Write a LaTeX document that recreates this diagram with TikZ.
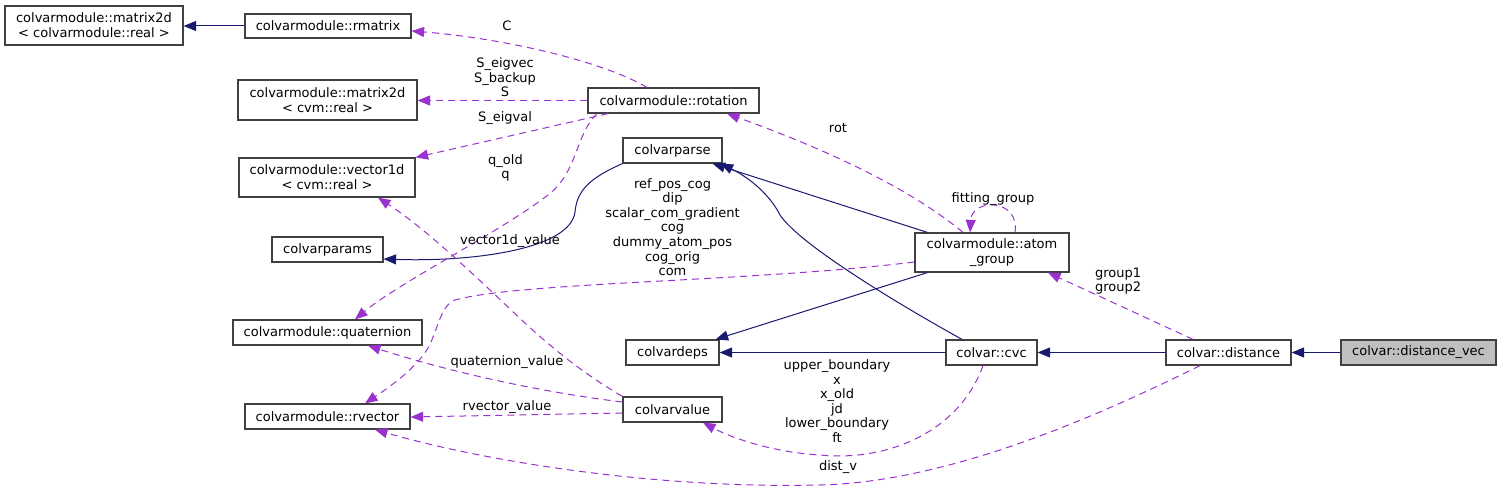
\documentclass[tikz,border=0pt]{standalone}
\usepackage{fontspec}
\setmainfont{DejaVu Sans}
\usetikzlibrary{arrows.meta,calc}
\definecolor{navy}{HTML}{191970}
\definecolor{orchid}{HTML}{9A32CD}
\definecolor{bord}{HTML}{404040}
\definecolor{hl}{HTML}{BFBFBF}
\begin{document}
\begin{tikzpicture}[x=1pt,y=-1pt,
  font=\fontsize{13}{15}\selectfont,
  box/.style={draw=bord, fill=white, line width=1.2pt, inner sep=0pt, align=center},
  lbl/.style={align=center, inner sep=0pt, font=\fontsize{13}{14.6}\selectfont},
  inh/.style={draw=navy, line width=1pt, -{Triangle[length=12.5pt,width=10pt]}, navy},
  use/.style={draw=orchid, line width=1pt, dash pattern=on 7pt off 5pt, -{Triangle[length=12.5pt,width=10pt]}, orchid}]
\useasboundingbox (0,0) rectangle (1501,492);

% nodes
\node[box,minimum width=178pt,minimum height=39pt] (m2dreal) at (94,25.5) {colvarmodule::matrix2d\\< colvarmodule::real >};
\node[box,minimum width=166pt,minimum height=24pt] (rmatrix) at (328,26) {colvarmodule::rmatrix};
\node[box,minimum width=179pt,minimum height=40pt] (m2dcvm) at (327.5,100) {colvarmodule::matrix2d\\< cvm::real >};
\node[box,minimum width=176pt,minimum height=39pt] (vec1d) at (327,177.5) {colvarmodule::vector1d\\< cvm::real >};
\node[box,minimum width=111pt,minimum height=25pt] (params) at (327.5,249.5) {colvarparams};
\node[box,minimum width=189pt,minimum height=25pt] (quat) at (327.5,332.5) {colvarmodule::quaternion};
\node[box,minimum width=165pt,minimum height=25pt] (rvector) at (327.5,416.5) {colvarmodule::rvector};
\node[box,minimum width=171pt,minimum height=25pt] (rotation) at (673.5,100.5) {colvarmodule::rotation};
\node[box,minimum width=99pt,minimum height=25pt] (parse) at (672.5,150.5) {colvarparse};
\node[box,minimum width=154pt,minimum height=39pt] (atomgroup) at (992,252.5) {colvarmodule::atom\\\_group};
\node[box,minimum width=93pt,minimum height=25pt] (deps) at (672.5,352.5) {colvardeps};
\node[box,minimum width=99pt,minimum height=25pt] (value) at (672.5,409.5) {colvarvalue};
\node[box,minimum width=91pt,minimum height=25pt] (cvc) at (991.5,352.5) {colvar::cvc};
\node[box,minimum width=125pt,minimum height=25pt] (distance) at (1228.5,352.5) {colvar::distance};
\node[box,fill=hl,minimum width=155pt,minimum height=25pt] (distvec) at (1418.5,352.5) {colvar::distance\_vec};

% inheritance
\draw[inh] (rmatrix.west) -- (m2dreal.east |- rmatrix.west);
\draw[inh] (parse.south west) .. controls (590,178) and (577,190) .. (575,212) .. controls (570,250) and (470,262) .. ([yshift=-9.5pt]params.east);
\draw[inh] ([xshift=13pt]atomgroup.north west) -- ([xshift=-10pt]parse.south east);
\draw[inh] ([xshift=-29.5pt]cvc.north) .. controls (900,305) and (800,245) .. (780,215) .. controls (770,195) and (750,178) .. ([xshift=-2pt]parse.south east);
\draw[inh] ([xshift=13pt]atomgroup.south west) -- ([xshift=-4pt]deps.north east);
\draw[inh] (cvc) -- (deps);
\draw[inh] (distance) -- (cvc);
\draw[inh] (distvec) -- (distance);

% usage
\draw[use] ([xshift=-26.5pt]rotation.north) .. controls (600,60) and (500,38) .. ([yshift=-5pt]rmatrix.east);
\node[lbl] (lC) at (507,26) {C};
\draw[use] (rotation.west) -- (m2dcvm.east |- rotation.west);
\node[lbl] (lS) at (505,77.5) {S\_eigvec\\S\_backup\\S};
\draw[use] ([xshift=-65.5pt]rotation.south) -- (vec1d.north east);
\node[lbl] (lSe) at (505,118) {S\_eigval};
\draw[use] ([xshift=-76.5pt]rotation.south) .. controls (575,135) and (578,172) .. (548,195) .. controls (500,232) and (400,282) .. ([xshift=27.5pt]quat.north);
\node[lbl] (lq) at (505.5,168) {q\_old\\q};
\draw[use] (value.north west) .. controls (560,360) and (520,318) .. (490,290) .. controls (460,262) and (420,225) .. ([xshift=51pt]vec1d.south);
\node[lbl] (lv1) at (510,241) {vector1d\_value};
\draw[use] ([yshift=7.5pt]value.west) .. controls (540,392) and (450,372) .. ([xshift=40.5pt]quat.south);
\node[lbl] (lqv) at (507,362) {quaternion\_value};
\draw[use] ([yshift=-3.5pt]value.west) -- ([yshift=-0.5pt]rvector.east);
\node[lbl] (lrv) at (507,407) {rvector\_value};
\draw[use] ([yshift=-9.5pt]atomgroup.west) .. controls (750,282) and (520,282) .. (455,300) .. controls (440,306) and (438,330) .. (428,348) .. controls (415,370) and (385,390) .. ([xshift=37.5pt]rvector.north);
\node[lbl] (lag) at (672.5,227) {ref\_pos\_cog\\dip\\scalar\_com\_gradient\\cog\\dummy\_atom\_pos\\cog\_orig\\com};
\draw[use] ([xshift=-29pt]atomgroup.north) .. controls (900,180) and (800,140) .. ([xshift=53.5pt]rotation.south);
\node[lbl] (lrot) at (838,128) {rot};
\draw[use] ([xshift=23pt]atomgroup.north) .. controls (1020,198) and (972,198) .. ([xshift=-22pt]atomgroup.north);
\node[lbl] (lfg) at (993,199) {fitting\_group};
\draw[use] ([xshift=-35.5pt]distance.north) -- ([xshift=56pt]atomgroup.south);
\node[lbl] (lg) at (1118,281) {group1\\group2};
\draw[use] ([xshift=-8.5pt]cvc.south) .. controls (960,430) and (890,462) .. (820,455) .. controls (770,452) and (730,437) .. ([xshift=30.5pt]value.south);
\node[lbl] (lcvc) at (837,401) {upper\_boundary\\x\\x\_old\\jd\\lower\_boundary\\ft};
\draw[use] ([xshift=-28.5pt]distance.south) .. controls (1100,415) and (950,482) .. (820,485) .. controls (650,489) and (480,460) .. ([xshift=47.5pt]rvector.south);
\node[lbl] (ldv) at (838,467) {dist\_v};
\end{tikzpicture}
\end{document}
